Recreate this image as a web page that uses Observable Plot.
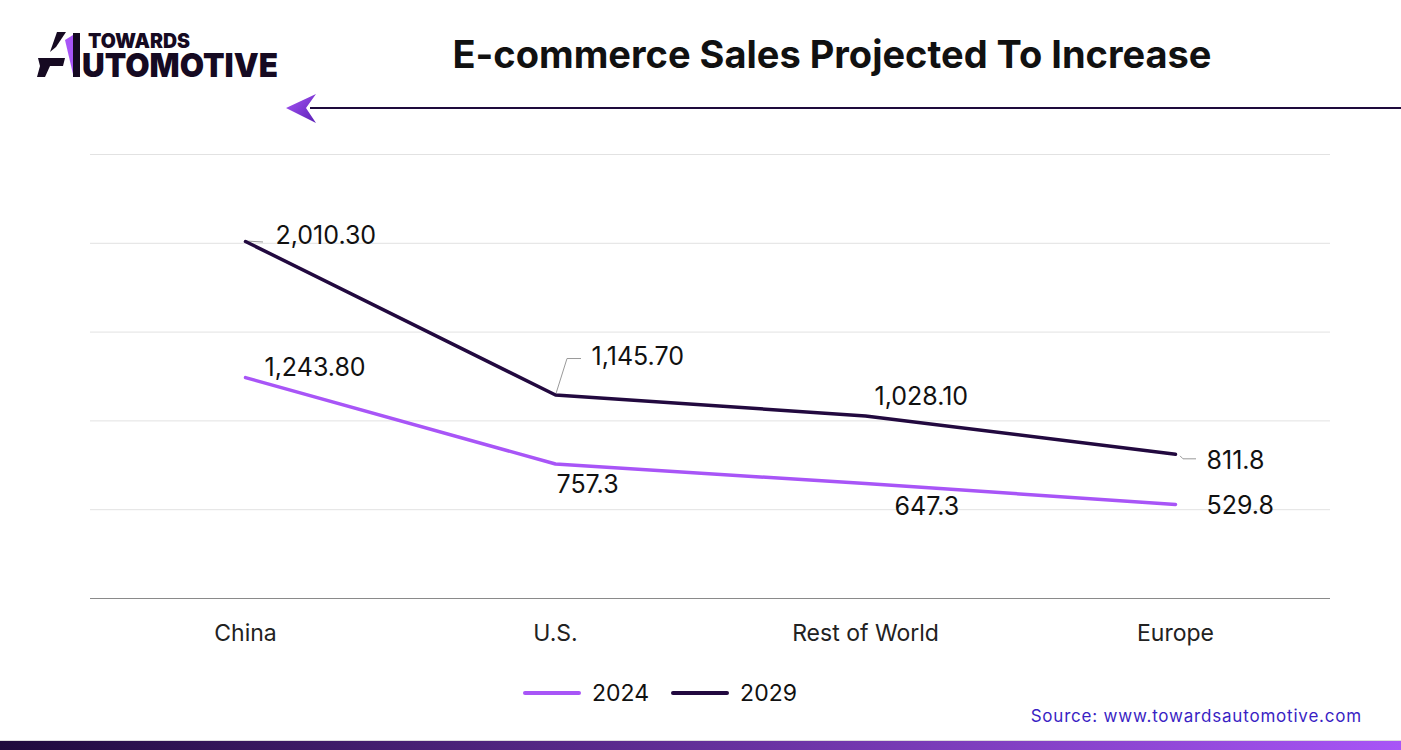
<!DOCTYPE html>
<html>
<head>
<meta charset="utf-8">
<script src="https://cdn.jsdelivr.net/npm/d3@7"></script>
<script src="https://cdn.jsdelivr.net/npm/@observablehq/plot@0.6"></script>
<style>
  html, body { margin: 0; padding: 0; background: #fff; }
  #page { position: relative; width: 1401px; height: 750px; overflow: hidden; font-family: Inter, "Noto Sans", sans-serif; }
  #chart { position: absolute; left: 0; top: 0; }
  #title { position: absolute; left: 0; width: 1664px; top: 31px; text-align: center; font-size: 38px; font-weight: 700; color: #111; letter-spacing: 0px; }
  #legend { position: absolute; top: 679px; left: 0; width: 1320px; display: flex; justify-content: center; gap: 22px; font-size: 23px; color: #111; }
  .item { display: flex; align-items: center; gap: 11px; }
  .sw { width: 58px; height: 4px; border-radius: 2px; }
  #source { position: absolute; right: 39px; top: 706px; font-size: 17px; letter-spacing: 0.8px; color: #3a1fc4; }
  #bar { position: absolute; left: 0; bottom: 0; width: 1401px; height: 9px; background: linear-gradient(90deg, #1e0a3c, #a855f7); border-top: 1px solid #ddd; }
</style>
</head>
<body>
<div id="page">
  <div id="chart"></div>
  <svg id="deco" width="1401" height="140" style="position:absolute;left:0;top:0">
    <defs>
      <linearGradient id="ag" x1="0" y1="0" x2="1" y2="1">
        <stop offset="0" stop-color="#a855f7"/>
        <stop offset="1" stop-color="#5b21b6"/>
      </linearGradient>
    </defs>
    <!-- logo mark -->
    <polygon points="50,52 57,32 66,32 56,47" fill="#160a22"/>
    <polygon points="38,58 65,58 63,66 40,66" fill="#160a22"/>
    <polygon points="40,66 50,66 45,77 37,77" fill="#160a22"/>
    <polygon points="65,40 73,35 73,74" fill="#a855f7"/>
    <polygon points="73,33 80,33 80,77 73,77" fill="#160a22"/>
    <text x="88" y="48" font-family="Inter, sans-serif" font-weight="900" font-size="20" fill="#160a22" textLength="102" lengthAdjust="spacingAndGlyphs">TOWARDS</text>
    <text x="82" y="77" font-family="Inter, sans-serif" font-weight="900" font-size="33" fill="#160a22" textLength="196" lengthAdjust="spacingAndGlyphs">UTOMOTIVE</text>
    <!-- arrow -->
    <line x1="310" y1="108" x2="1401" y2="108" stroke="#1e0a3c" stroke-width="2"/>
    <polygon points="286,108 316,94 306,108 316,123" fill="url(#ag)"/>
  </svg>
  <div id="title">E-commerce Sales Projected To Increase</div>
  <div id="legend"></div>
  <div id="source">Source: www.towardsautomotive.com</div>
  <div id="bar"></div>
</div>
<script>
// ---- data ----
const categories = ["China", "U.S.", "Rest of World", "Europe"];
const series = ["2024", "2029"];
const values2024 = [1243.8, 757.3, 647.3, 529.8];
const values2029 = [2010.3, 1145.7, 1028.1, 811.8];
const labels2024 = ["1,243.80", "757.3", "647.3", "529.8"];
const labels2029 = ["2,010.30", "1,145.70", "1,028.10", "811.8"];
const yTicks = [0, 500, 1000, 1500, 2000, 2500];
const colors = {"2024": "#a855f7", "2029": "#22093f"};

const rows = [];
categories.forEach((c, i) => {
  rows.push({category: c, series: "2024", value: values2024[i], label: labels2024[i]});
  rows.push({category: c, series: "2029", value: values2029[i], label: labels2029[i]});
});

// label offsets (styling) keyed by series|category
const off = {
  "2029|China": [30, -5], "2024|China": [19, -10],
  "2029|U.S.": [36, -38], "2024|U.S.": [1, 21],
  "2029|Rest of World": [9, -19], "2024|Rest of World": [29, 23],
  "2029|Europe": [31, 7], "2024|Europe": [31, 2]
};
// leader paths in pixel offsets from the point
const leaderSpecs = [
  {category: "China", series: "2029", pts: [[0, 0], [18, 1]]},
  {category: "U.S.", series: "2029", pts: [[1, -1], [12, -36], [26, -36]]},
  {category: "Europe", series: "2029", pts: [[5, 2], [8, 5], [21, 5]]}
];
function valueOf(s, c) {
  const i = categories.indexOf(c);
  return s === "2024" ? values2024[i] : values2029[i];
}

const textMarks = rows.map(r => Plot.text([r], {
  x: "category", y: "value", text: "label",
  dx: off[r.series + "|" + r.category][0], dy: off[r.series + "|" + r.category][1],
  textAnchor: "start", fontSize: 25, fill: "#111"
}));

const leaderMark = (index, scales) => {
  const g = d3.create("svg:g").attr("fill", "none").attr("stroke", "#9a9a9a").attr("stroke-width", 1);
  for (const l of leaderSpecs) {
    const px = scales.x(l.category), py = scales.y(valueOf(l.series, l.category));
    g.append("polyline").attr("points", l.pts.map(([dx, dy]) => `${px + dx},${py + dy}`).join(" "));
  }
  return g.node();
};

const chart = Plot.plot({
  width: 1401,
  height: 660,
  marginLeft: 90,
  marginRight: 71,
  marginTop: 154,
  marginBottom: 62,
  style: {fontFamily: "Inter, sans-serif", background: "transparent"},
  x: {type: "point", domain: categories, padding: 0.5, label: null},
  y: {domain: [0, 2500], axis: null},
  marks: [
    Plot.ruleY(yTicks.slice(1), {stroke: "#e2e2e2", strokeWidth: 1}),
    Plot.ruleY([0], {stroke: "#8a8a8a", strokeWidth: 1}),
    leaderMark,
    Plot.line(rows, {x: "category", y: "value", z: "series", stroke: d => colors[d.series], strokeWidth: 3.5, curve: "linear"}),
    ...textMarks,
    Plot.axisX({tickSize: 0, tickPadding: 26, fontSize: 23, fill: "#222", label: null})
  ]
});
document.getElementById("chart").appendChild(chart);

// legend
const lg = document.getElementById("legend");
series.forEach(s => {
  const it = document.createElement("div");
  it.className = "item";
  it.innerHTML = `<span class="sw" style="background:${colors[s]}"></span><span>${s}</span>`;
  lg.appendChild(it);
});
</script>
</body>
</html>
